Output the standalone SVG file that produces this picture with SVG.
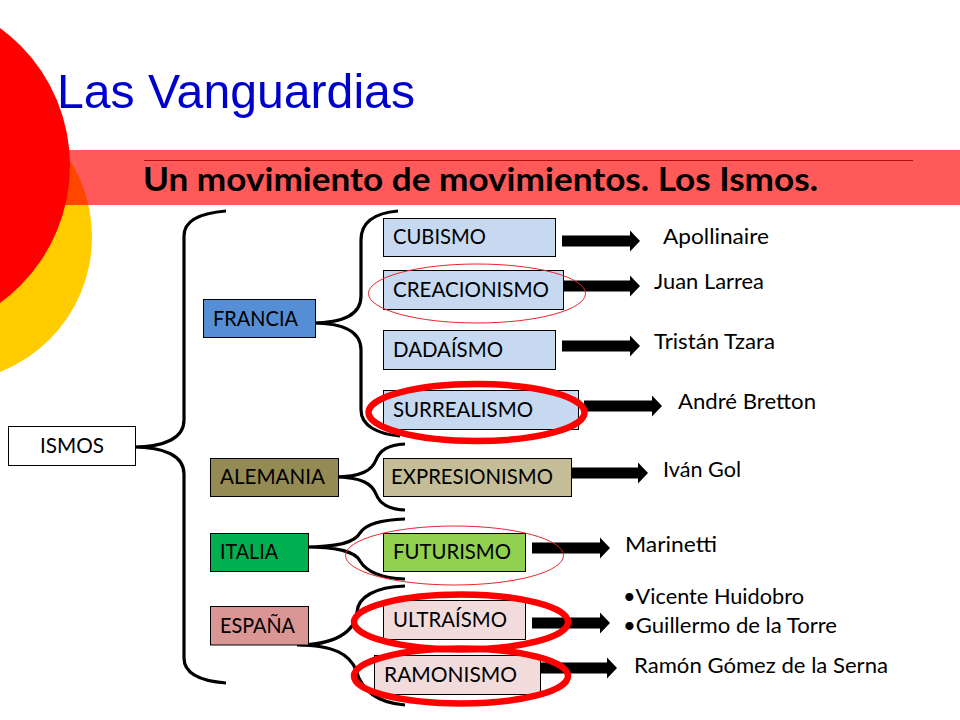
<svg xmlns="http://www.w3.org/2000/svg" xmlns:xlink="http://www.w3.org/1999/xlink" width="960" height="720" viewBox="0 0 960 720">
<style>
text{font-family:"Lato","Open Sans","Liberation Sans",sans-serif;font-size:21px;fill:#000}
.b{stroke:#000;stroke-width:1}
.brace{fill:none;stroke:#000;stroke-width:3.2}
.thin{fill:none;stroke:#e8262a;stroke-width:1}
.thick{fill:none;stroke:#f00;stroke-width:6.5}
</style>
<defs><polygon id="arrow" points="0,-5.5 68,-5.5 68,-10.5 78,0 68,10.5 68,5.5 0,5.5" fill="#000"/></defs>
<rect width="960" height="720" fill="#fff"/>
<g id="background">
<circle cx="-53" cy="237" r="145" fill="#ffcc00"/>
<rect x="0" y="150" width="960" height="55" fill="#ff0000" fill-opacity="0.65"/>
<circle cx="-100" cy="165.500" r="170" fill="#ff0000"/>
<line x1="144" y1="160.500" x2="913" y2="160.500" stroke="#b01010" stroke-width="1"/>
</g>
<text id="title" x="57" y="108" textLength="358" lengthAdjust="spacingAndGlyphs" style="font-family:'Liberation Sans',Arial,sans-serif;font-size:48px;fill:#0000cc">Las Vanguardias</text>
<text id="subtitle" x="143" y="191" textLength="675" lengthAdjust="spacingAndGlyphs" style="font-size:33px;font-weight:700">Un movimiento de movimientos. Los Ismos.</text>
<g id="connectors">
<path class="brace" d="M226 211C200 213 184 220 184 236V420C184 438 165 447 133 447C165 447 184 456 184 474V658C184 674 200 681 226 683"/>
<path class="brace" d="M398 211C375 213 361 222 361 240V296C361 314 345 323 312 323C345 323 361 332 361 350V410C361 426 378 434 400 436"/>
<path class="brace" d="M405 444C388 445 380 450 376 460C372 470 362 477 334 477C362 477 372 484 376 494C380 504 388 509 405 510"/>
<path class="brace" d="M405 519C380 520 366 524 360 533C355 542 340 547 304 547C340 547 355 552 360 561C366 571 380 578 405 579"/>
<path class="brace" d="M405 586C375 587 358 597 357 612C355 632 335 645 297 645C335 645 350 655 356 670C362 692 380 703 405 705"/>
<use xlink:href="#arrow" href="#arrow" x="562" y="241"/>
<use xlink:href="#arrow" href="#arrow" x="562" y="286"/>
<use xlink:href="#arrow" href="#arrow" x="562" y="346"/>
<use xlink:href="#arrow" href="#arrow" x="584" y="406"/>
<use xlink:href="#arrow" href="#arrow" x="570" y="473"/>
<use xlink:href="#arrow" href="#arrow" x="532" y="548"/>
<use xlink:href="#arrow" href="#arrow" x="532" y="623"/>
<use xlink:href="#arrow" href="#arrow" x="539" y="668"/>
</g>
<g id="ismos"><rect class="b" x="8.500" y="426.500" width="127" height="39" fill="#fff"/><text x="40" y="453" textLength="64" lengthAdjust="spacingAndGlyphs">ISMOS</text></g>
<g id="francia"><rect class="b" x="203.500" y="299.500" width="112" height="38" fill="#558ed5"/><text x="213" y="326" textLength="85" lengthAdjust="spacingAndGlyphs">FRANCIA</text></g>
<g id="cubismo"><rect class="b" x="383.500" y="218.500" width="172" height="38" fill="#c6d9f1"/><text x="393" y="244" textLength="93" lengthAdjust="spacingAndGlyphs">CUBISMO</text></g>
<g id="creacionismo"><rect class="b" x="383.500" y="270.500" width="180" height="39" fill="#c6d9f1"/><text x="393" y="297" textLength="156" lengthAdjust="spacingAndGlyphs">CREACIONISMO</text></g>
<g id="dadaismo"><rect class="b" x="383.500" y="330.500" width="172" height="39" fill="#c6d9f1"/><text x="393" y="357" textLength="110" lengthAdjust="spacingAndGlyphs">DADAÍSMO</text></g>
<g id="surrealismo"><rect class="b" x="383.500" y="390.500" width="195" height="39" fill="#c6d9f1"/><text x="393" y="417" textLength="140" lengthAdjust="spacingAndGlyphs">SURREALISMO</text></g>
<g id="alemania"><rect class="b" x="210.500" y="458.500" width="128" height="38" fill="#948a54"/><text x="220" y="484" textLength="105" lengthAdjust="spacingAndGlyphs">ALEMANIA</text></g>
<g id="expresionismo"><rect class="b" x="383.500" y="458.500" width="188" height="38" fill="#c4bd97"/><text x="391" y="484" textLength="162" lengthAdjust="spacingAndGlyphs">EXPRESIONISMO</text></g>
<g id="italia"><rect class="b" x="210.500" y="533.500" width="98" height="38" fill="#00b050"/><text x="220" y="559" textLength="58" lengthAdjust="spacingAndGlyphs">ITALIA</text></g>
<g id="futurismo"><rect class="b" x="383.500" y="533.500" width="142" height="38" fill="#92d050"/><text x="393" y="559" textLength="118" lengthAdjust="spacingAndGlyphs">FUTURISMO</text></g>
<g id="espana"><rect class="b" x="210.500" y="606.500" width="98" height="38.500" fill="#d99694"/><text x="220" y="633" textLength="75" lengthAdjust="spacingAndGlyphs">ESPAÑA</text></g>
<g id="ultraismo"><rect class="b" x="383.500" y="600.500" width="142" height="39" fill="#f2dcdb"/><text x="393" y="627" textLength="114" lengthAdjust="spacingAndGlyphs">ULTRAÍSMO</text></g>
<g id="ramonismo"><rect class="b" x="374.500" y="655.500" width="166" height="39" fill="#f2dcdb"/><text x="384" y="682" textLength="133" lengthAdjust="spacingAndGlyphs">RAMONISMO</text></g>
<g id="authors">
<text x="663" y="244" textLength="106" lengthAdjust="spacingAndGlyphs">Apollinaire</text>
<text x="654" y="289" textLength="110" lengthAdjust="spacingAndGlyphs">Juan Larrea</text>
<text x="654" y="349" textLength="121" lengthAdjust="spacingAndGlyphs">Tristán Tzara</text>
<text x="678" y="409" textLength="138" lengthAdjust="spacingAndGlyphs">André Bretton</text>
<text x="663" y="477" textLength="78" lengthAdjust="spacingAndGlyphs">Iván Gol</text>
<text x="625" y="552" textLength="92" lengthAdjust="spacingAndGlyphs">Marinetti</text>
<text x="623" y="604" textLength="181" lengthAdjust="spacingAndGlyphs">•Vicente Huidobro</text>
<text x="623" y="633" textLength="214" lengthAdjust="spacingAndGlyphs">•Guillermo de la Torre</text>
<text x="634" y="673" textLength="254" lengthAdjust="spacingAndGlyphs">Ramón Gómez de la Serna</text>
</g>
<g id="highlights">
<ellipse class="thin" cx="477" cy="293.500" rx="108.500" ry="29.500"/>
<ellipse class="thin" cx="454.500" cy="555.500" rx="109" ry="29.500"/>
<ellipse class="thick" cx="476.500" cy="412.500" rx="108" ry="28.500"/>
<ellipse class="thick" cx="461" cy="622" rx="107" ry="27.500"/>
<ellipse class="thick" cx="461" cy="676" rx="107" ry="27.500"/>
</g>
</svg>
